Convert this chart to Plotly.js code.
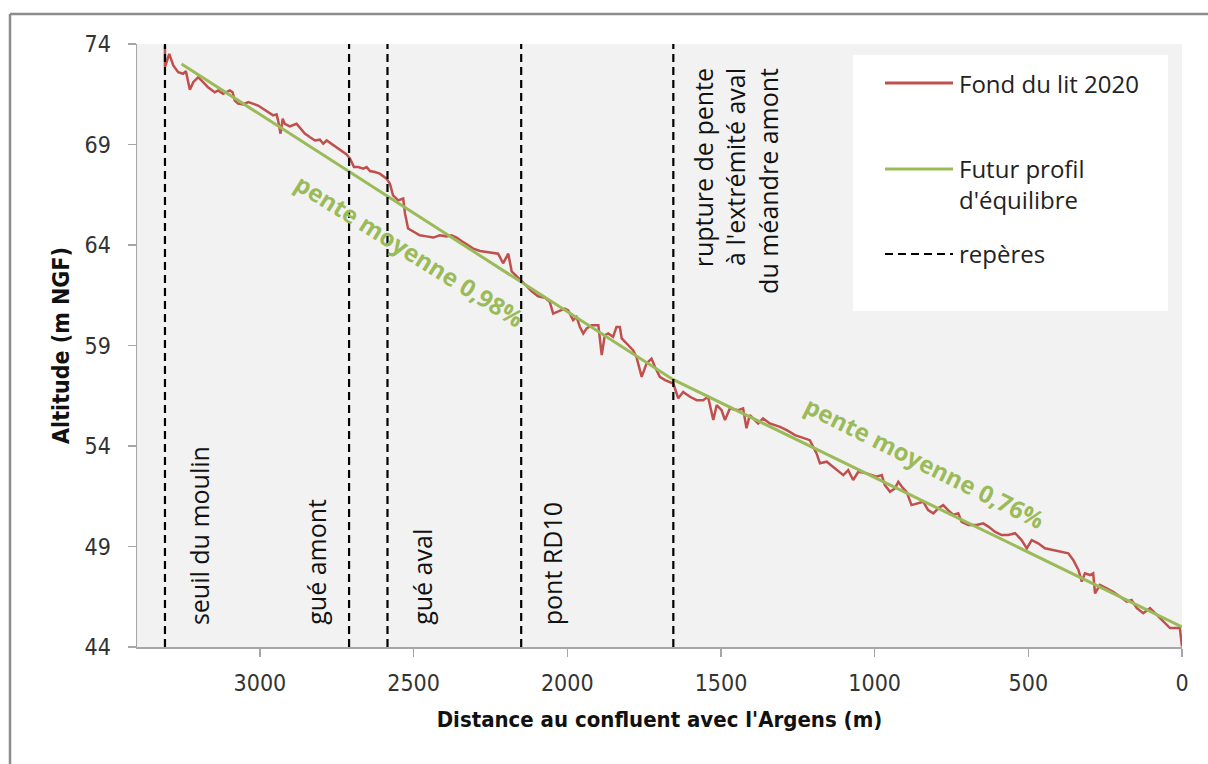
<!DOCTYPE html>
<html><head><meta charset="utf-8">
<script src="https://cdn.plot.ly/plotly-3.0.1.min.js"></script>
<style>html,body{margin:0;padding:0;background:#fff}#chart{width:1208px;height:764px}</style>
</head><body><div id="chart"></div>
<script>
// ---- data ----
const distance = [3309,3309,3295,3282,3266,3250,3241,3228,3217,3201,3185,3169,3147,3136,3120,3098,3089,3082,3071,3055,3038,3022,3006,2990,2973,2957,2946,2941,2933,2926,2919,2903,2881,2870,2854,2838,2821,2805,2794,2783,2767,2751,2734,2718,2707,2694,2680,2664,2653,2642,2626,2610,2588,2577,2567,2550,2534,2528,2518,2501,2480,2458,2436,2415,2393,2377,2360,2344,2328,2306,2284,2263,2241,2225,2209,2192,2181,2165,2149,2132,2116,2095,2073,2057,2046,2024,2008,1997,1981,1970,1959,1948,1937,1921,1899,1888,1878,1867,1851,1840,1829,1823,1807,1796,1786,1775,1758,1742,1726,1715,1699,1682,1666,1655,1639,1623,1601,1579,1558,1542,1525,1514,1498,1487,1471,1444,1428,1417,1406,1379,1363,1341,1308,1286,1259,1232,1211,1189,1178,1156,1135,1102,1086,1070,1053,1026,994,977,967,950,934,923,907,896,880,858,842,826,809,793,777,761,744,728,717,695,668,647,630,609,587,565,543,522,505,489,468,446,424,397,370,354,337,326,316,299,289,283,267,245,224,202,180,164,147,126,104,82,61,39,17,7,0,0];
const altitude = [73.93,72.85,73.51,72.93,72.60,72.52,72.65,71.72,72.10,72.35,72.10,71.85,71.60,71.69,71.52,71.69,71.60,71.19,71.03,70.99,71.11,71.03,70.94,70.78,70.61,70.45,70.50,70.20,69.54,70.28,70.03,69.90,70.03,69.84,69.54,69.37,69.20,69.24,69.04,69.20,69.04,68.87,68.71,68.51,68.29,67.88,67.88,67.80,67.88,67.68,67.63,67.55,67.30,67.05,66.47,66.22,66.31,65.56,64.82,64.65,64.48,64.43,64.37,64.48,64.43,64.48,64.37,64.20,64.04,63.82,63.70,63.65,63.60,63.57,63.09,63.57,62.69,62.45,62.25,61.95,61.70,61.45,61.38,61.17,60.59,60.75,60.84,60.75,60.26,60.42,59.92,59.60,59.85,60.01,60.01,58.52,59.51,59.60,59.43,59.92,59.92,59.35,59.10,58.93,58.77,58.43,57.44,58.11,58.35,57.94,57.44,57.28,57.19,57.11,56.37,56.69,56.45,56.28,56.28,56.45,55.29,56.03,55.78,55.29,55.87,55.78,55.87,54.88,55.54,55.12,55.37,55.12,54.95,54.79,54.54,54.38,54.29,53.63,53.14,53.22,52.97,52.55,52.80,52.31,52.72,52.64,52.47,52.55,52.06,51.72,51.89,52.22,51.89,51.72,51.06,51.15,51.23,50.81,50.65,50.90,51.06,50.81,50.57,50.65,50.23,50.07,50.07,50.15,49.99,49.74,49.57,49.57,49.66,49.32,48.91,49.32,49.16,48.91,48.83,48.74,48.66,48.33,47.83,47.25,47.67,47.58,47.67,46.67,47.09,46.92,46.75,46.51,46.26,46.34,45.93,45.68,45.93,45.60,45.26,44.94,44.94,44.94,44.02];
const profilDist = [3255, 1655, 0];
const profilAlt = [73.0, 57.3, 45.0];
const reperes = [3309, 2710, 2585, 2150, 1655];
const repereLabels = ["seuil du moulin", "gué amont", "gué aval", "pont RD10", "rupture de pente<br>à l'extrémité aval<br>du méandre amont"];
const penteLabels = ["pente moyenne 0,98%", "pente moyenne 0,76%"];
const legendNames = ["Fond du lit 2020", "Futur profil<br>d'équilibre", "repères"];
const xTicks = [0, 500, 1000, 1500, 2000, 2500, 3000];
const yTicks = [44, 49, 54, 59, 64, 69, 74];
const xTitle = "Distance au confluent avec l'Argens (m)";
const yTitle = "Altitude (m NGF)";

// ---- styles ----
const RED = '#c0504d', GREEN = '#9bbb59';
const NARROW = '"Liberation Sans Narrow", "DejaVu Sans Condensed", "Open Sans", sans-serif';
const SANS = '"Open Sans", "Noto Sans", sans-serif';
const M = {l: 137, r: 26, t: 44, b: 117};
const W = 1208, H = 764;
const PW = W - M.l - M.r, PH = H - M.t - M.b;
const px = x => (x - M.l) / PW;
const py = y => (H - M.b - y) / PH;

const dashX = [], dashY = [];
reperes.forEach(p => { dashX.push(p, p, null); dashY.push(yTicks[0], yTicks[yTicks.length - 1], null); });

const traces = [
  {x: distance, y: altitude, type: 'scatter', mode: 'lines', name: 'Fond du lit 2020',
   line: {color: RED, width: 2.5}, hoverinfo: 'skip'},
  {x: profilDist, y: profilAlt, type: 'scatter', mode: 'lines', name: "Futur profil d'équilibre",
   line: {color: GREEN, width: 3}, hoverinfo: 'skip'},
  {x: dashX, y: dashY, type: 'scatter', mode: 'lines', name: 'repères',
   line: {color: '#000', width: 2.2, dash: '8px,5px'}, hoverinfo: 'skip'}
];

// annotation placements (layout only)
const labelPos = [
  {x: 3196, y: 45.0, yanchor: 'bottom', align: 'left'},
  {x: 2818, y: 45.0, yanchor: 'bottom', align: 'left'},
  {x: 2473, y: 45.0, yanchor: 'bottom', align: 'left'},
  {x: 2047, y: 45.0, yanchor: 'bottom', align: 'left'},
  {x: 1455, y: 72.9, yanchor: 'top', align: 'right'}
];
const annotations = repereLabels.map((t, i) => ({
  text: t, x: labelPos[i].x, y: labelPos[i].y, xref: 'x', yref: 'y',
  xanchor: 'center', yanchor: labelPos[i].yanchor, align: labelPos[i].align,
  textangle: -90, showarrow: false, font: {family: SANS, size: 25, color: '#111'}
}));
const pentePos = [{x: 2512, y: 63.74, a: 32}, {x: 836, y: 53.2, a: 26.5}];
penteLabels.forEach((t, i) => annotations.push({
  text: '<b>' + t + '</b>', x: pentePos[i].x, y: pentePos[i].y, xref: 'x', yref: 'y',
  textangle: pentePos[i].a, showarrow: false, xanchor: 'center', yanchor: 'middle',
  font: {family: SANS, size: 24, color: GREEN}
}));

// manual legend
const legY = [83, 184, 254];
const legSym = [83, 169, 254];
const legStyles = [{color: RED, width: 3}, {color: GREEN, width: 3}, {color: '#000', width: 2.2, dash: '8px,5px'}];
legendNames.forEach((t, i) => annotations.push({
  text: t, xref: 'paper', yref: 'paper', x: px(957), y: py(legY[i]),
  xanchor: 'left', yanchor: 'middle', align: 'left', showarrow: false,
  font: {family: SANS, size: 24, color: '#222'}
}));

const shapes = [
  {type: 'rect', xref: 'paper', yref: 'paper', x0: px(853), x1: px(1168), y0: py(311), y1: py(55),
   fillcolor: '#ffffff', line: {width: 0}, layer: 'above'},
  {type: 'line', xref: 'paper', yref: 'paper', x0: px(10), x1: px(1220), y0: py(14), y1: py(14),
   line: {color: '#8c8c8c', width: 2.5}},
  {type: 'line', xref: 'paper', yref: 'paper', x0: px(10), x1: px(10), y0: py(14), y1: py(780),
   line: {color: '#8c8c8c', width: 2.5}}
];
legStyles.forEach((s, i) => shapes.push({
  type: 'line', xref: 'paper', yref: 'paper', x0: px(885), x1: px(953), y0: py(legSym[i]), y1: py(legSym[i]),
  line: s, layer: 'above'
}));

const axisCommon = {
  ticks: 'outside', ticklen: 8, tickwidth: 1.5, tickcolor: '#a6a6a6',
  showline: true, linecolor: '#a6a6a6', linewidth: 1.5,
  showgrid: false, zeroline: false,
  tickfont: {family: NARROW, size: 23, color: '#333'}
};

const layout = {
  width: W, height: H, margin: M,
  paper_bgcolor: '#ffffff', plot_bgcolor: '#f2f2f2',
  showlegend: false,
  xaxis: Object.assign({}, axisCommon, {
    range: [3400, 0], tickmode: 'array', tickvals: xTicks, ticktext: xTicks.map(String),
    ticklabelstandoff: 7,
    title: {text: '<b>' + xTitle + '</b>', font: {family: NARROW, size: 22, color: '#111'}, standoff: 16}
  }),
  yaxis: Object.assign({}, axisCommon, {
    range: [44, 74], tickmode: 'array', tickvals: yTicks, ticktext: yTicks.map(String),
    ticklabelstandoff: 12,
    title: {text: '<b>' + yTitle + '</b>', font: {family: NARROW, size: 23, color: '#111'}, standoff: 8}
  }),
  annotations: annotations,
  shapes: shapes
};

Plotly.newPlot('chart', traces, layout, {staticPlot: true, displayModeBar: false});
</script>
</body></html>
